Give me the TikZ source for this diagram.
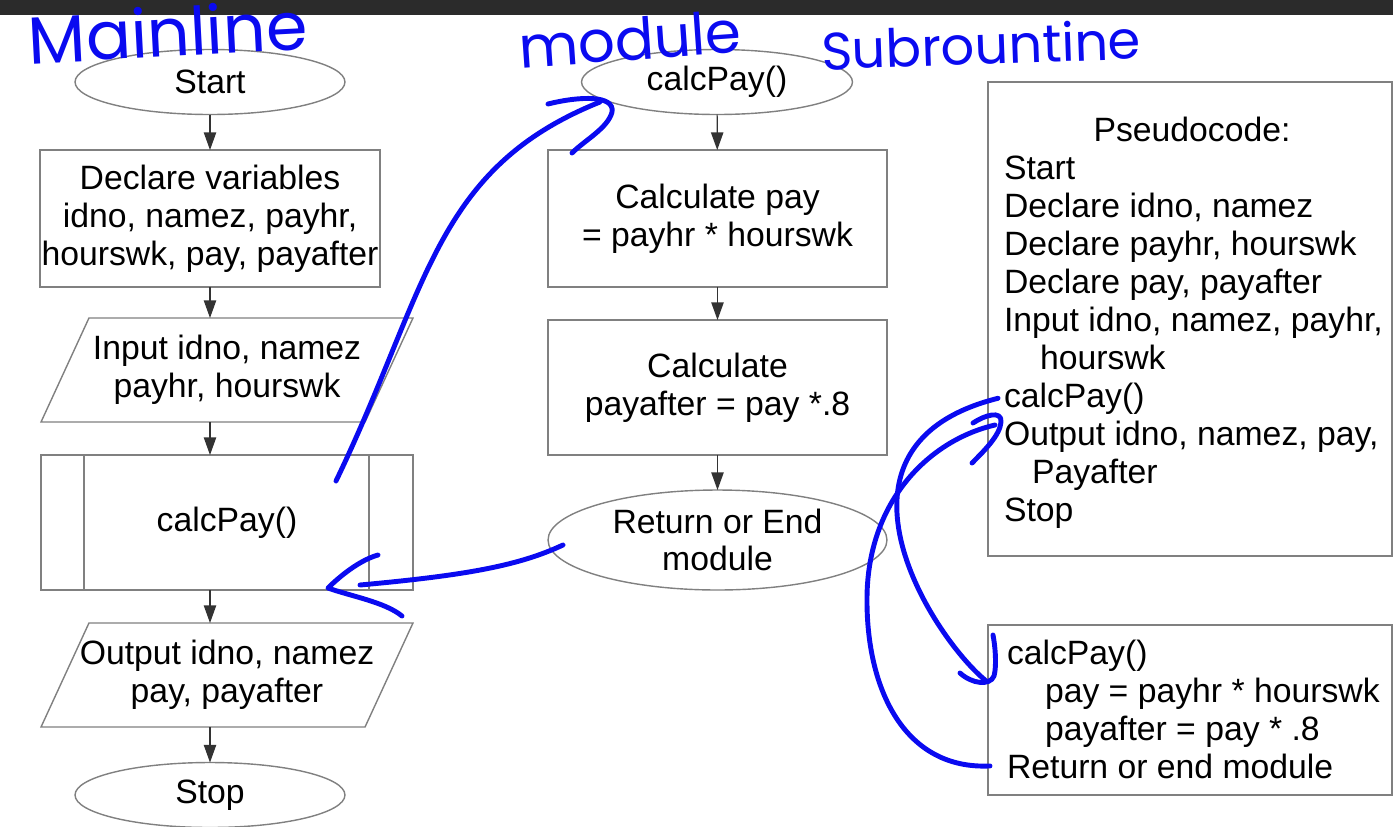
\documentclass[tikz,border=0pt]{standalone}
\usepackage{fontspec}
\setmainfont{Liberation Sans}
\newfontfamily\inkfont{Poppins}
\usetikzlibrary{shapes.geometric,calc}
\usetikzlibrary{arrows.meta}
\definecolor{inkblue}{RGB}{10,10,240}
\definecolor{edgegray}{RGB}{128,128,128}
\definecolor{topbar}{RGB}{43,43,43}
\newcommand{\flowfont}{\fontsize{19.2}{21.5}\selectfont}

\begin{document}
\begin{tikzpicture}[x=0.02cm, y=-0.02cm,
    every node/.style={font=\flowfont, inner sep=0pt, outer sep=0pt},
    term/.style={ellipse, draw=edgegray, line width=0.8pt, align=center,
                 minimum width=5.4cm, minimum height=1.3cm},
    procbox/.style={rectangle, draw=edgegray, line width=0.8pt, align=center},
    iobox/.style={trapezium, trapezium left angle=55.3, trapezium right angle=124.7,
                  trapezium stretches body, draw=edgegray, line width=0.8pt, align=center,
                  inner xsep=-0.6cm, minimum width=7.44cm, minimum height=2.08cm},
    codeline/.style={anchor=base west, align=left},
    flow/.style={draw=black!80, line width=0.7pt, -{Triangle[length=10pt,width=7pt]}},
    ink/.style={draw=inkblue, line width=2.8pt, line cap=round, line join=round},
    inktext/.style={text=inkblue, anchor=base west, font={\inkfont\fontsize{38}{38}\selectfont}}]

    \useasboundingbox (0,0) rectangle (1393,826);
    \fill[topbar] (0,0) rectangle (1393,15);

    % mainline flowchart
    \node[term] (start) at (210,82) {Start};
    \node[procbox, minimum width=6.8cm, minimum height=2.74cm] (decl) at (210,218.5)
        {Declare variables\\idno, namez, payhr,\\hourswk, pay, payafter};
    \node[iobox] (inp) at (227,370) {Input idno, namez\\payhr, hourswk};
    \node[procbox, minimum width=7.44cm, minimum height=2.7cm] (call) at (227,522.5) {calcPay()};
    \draw[edgegray, line width=0.8pt]
        ([xshift=0.86cm]call.north west) -- ([xshift=0.86cm]call.south west)
        ([xshift=-0.88cm]call.north east) -- ([xshift=-0.88cm]call.south east);
    \node[iobox] (out) at (227,675) {Output idno, namez\\pay, payafter};
    \node[term] (stop) at (210,795) {Stop};

    \draw[flow] (start) -- (decl);
    \draw[flow] (decl) -- (inp.north -| decl);
    \draw[flow] (inp.south -| decl) -- (call.north -| decl);
    \draw[flow] (call.south -| decl) -- (out.north -| decl);
    \draw[flow] (out.south -| decl) -- (stop);

    % module flowchart
    \node[term, minimum width=5.42cm] (sub) at (717,82) {calcPay()};
    \node[procbox, minimum width=6.78cm, minimum height=2.74cm] (calc1) at (717.5,218.5)
        {Calculate pay\\= payhr * hourswk};
    \node[procbox, minimum width=6.78cm, minimum height=2.7cm] (calc2) at (717.5,387.5)
        {Calculate\\payafter = pay *.8};
    \node[term, minimum width=6.78cm, minimum height=2cm] (ret) at (717.5,540) {Return or End\\module};

    \draw[flow] (sub) -- (calc1);
    \draw[flow] (calc1) -- (calc2);
    \draw[flow] (calc2) -- (ret);

    % pseudocode boxes
    \node[procbox, minimum width=8.08cm, minimum height=9.48cm] (pseudo) at (1190,319) {};
    \node[anchor=base] (ptitle) at (1192,141) {Pseudocode:};
    \foreach \txt [count=\i from 0] in {Start, {Declare idno, namez}, {Declare payhr, hourswk},
        {Declare pay, payafter}, {Input idno, namez, payhr,}, {\hspace{0.72cm}hourswk},
        calcPay(), {Output idno, namez, pay,}, {\hspace{0.56cm}Payafter}, Stop}
        \node[codeline] (p\i) at (1004,179+38*\i) {\txt};

    \node[procbox, minimum width=8.08cm, minimum height=3.4cm] (modcode) at (1190,710) {};
    \foreach \txt/\dx [count=\i from 0] in {calcPay()/1007, {pay = payhr * hourswk}/1045,
        {payafter = pay * .8}/1045, {Return or end module}/1007}
        \node[codeline] (q\i) at (\dx,664+38*\i) {\txt};

    % handwritten notes
    \node[inktext, rotate=3] (lmain) at (30,64) {Mainline};
    \node[inktext, rotate=4, font={\inkfont\fontsize{33}{33}\selectfont}] (lmod) at (520,68) {module};
    \node[inktext, rotate=2, font={\inkfont\fontsize{30}{30}\selectfont}] (lsub) at (822,70) {Subrountine};

    \coordinate (a0) at (336,481);
    \coordinate (a1) at (600,102);
    \draw[ink] (a0) .. controls (428,290) and (433,169) .. (a1);
    \draw[ink] (548,104) .. controls (580,96) and (615,95) .. (612,112)
        .. controls (608,128) and (585,140) .. (572,153);

    \coordinate (b0) at (563,545);
    \coordinate (b1) at (360,585);
    \draw[ink] (b0) .. controls (520,565) and (470,575) .. (b1);
    \draw[ink] (378,555) .. controls (360,560) and (340,576) .. (328,588)
        .. controls (350,596) and (385,602) .. (402,616);

    \coordinate (c1) at (985,680);
    \draw[ink] ([xshift=-0.12cm]p6.west) .. controls (811,445) and (930,634) .. (c1);
    \draw[ink] (960,673) .. controls (972,684) and (990,686) .. (994,676)
        .. controls (997,665) and (995,645) .. (993,635);

    \coordinate (d1) at (995,425);
    \draw[ink] ([xshift=-0.34cm]q3.west) .. controls (905,770) and (866,690) .. (867,597)
        .. controls (868,500) and (930,440) .. (d1);
    \draw[ink] (973,423) .. controls (985,415) and (1002,410) .. (1001,422)
        .. controls (1000,435) and (985,450) .. (972,463);

\end{tikzpicture}
\end{document}
